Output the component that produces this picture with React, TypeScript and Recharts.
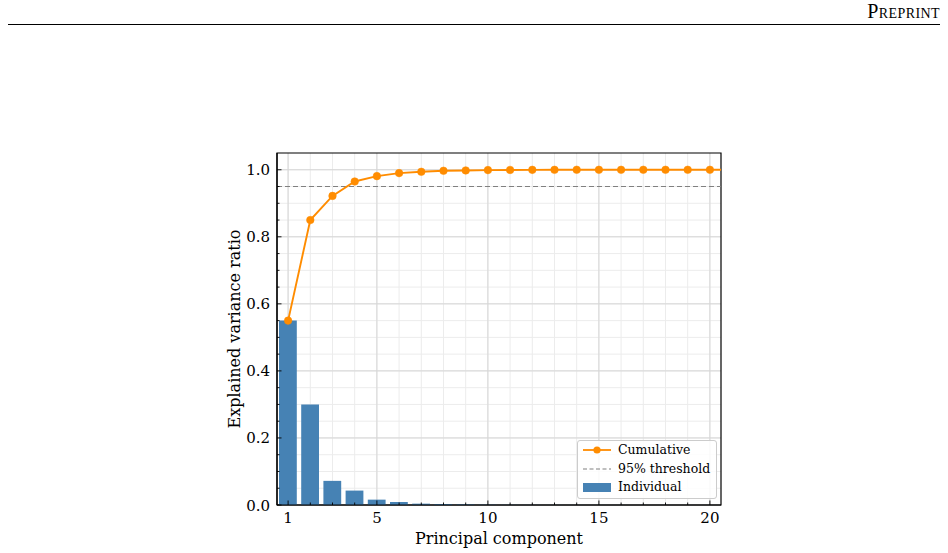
import React from 'react';
import { ComposedChart, Bar, Line, XAxis, YAxis, CartesianGrid, ReferenceLine, ReferenceArea } from 'recharts';

const components = [1, 2, 3, 4, 5, 6, 7, 8, 9, 10, 11, 12, 13, 14, 15, 16, 17, 18, 19, 20, 21];
const individual = [0.55, 0.3, 0.072, 0.043, 0.016, 0.009, 0.004, 0.003, 0.002, 0.001, 0.0006, 0.0004, 0.0003, 0.0002, 0.0002, 0.0001, 0.0001, 0.0001, 0.0001, 0.0001, 0.0001];
const cumulative = [0.55, 0.85, 0.922, 0.965, 0.981, 0.99, 0.994, 0.997, 0.998, 0.999, 0.9995, 0.9998, 0.9999, 1.0, 1.0, 1.0, 1.0, 1.0, 1.0, 1.0, 1.0];

const xTicks = [1, 2, 3, 4, 5, 6, 7, 8, 9, 10, 11, 12, 13, 14, 15, 16, 17, 18, 19, 20];
const xMajor = [1, 5, 10, 15, 20];
const yTicks = [0, 0.05, 0.1, 0.15, 0.2, 0.25, 0.3, 0.35, 0.4, 0.45, 0.5, 0.55, 0.6, 0.65, 0.7, 0.75, 0.8, 0.85, 0.9, 0.95, 1.0];
const yMajor = [0, 0.2, 0.4, 0.6, 0.8, 1.0];
const threshold = 0.95;

const data = components.map((c, i) => ({ pc: c, individual: individual[i], cumulative: cumulative[i] }));

const SERIF = '"DejaVu Serif", serif';
const ORANGE = '#ff8c00';
const BLUE = '#4682b4';

const isMajorY = (v: number) => yMajor.some((m) => Math.abs(m - v) < 1e-6);

const XTick = (props: any) => {
    const { x, y, payload } = props;
    const major = xMajor.includes(payload.value);
    return (
        <g>
            <line x1={x} x2={x} y1={y} y2={y - (major ? 4.5 : 2.5)} stroke="#000" strokeWidth={0.9} />
            {major && (
                <text x={x} y={y + 18} textAnchor="middle" fontFamily={SERIF} fontSize={15} fill="#000">
                    {payload.value}
                </text>
            )}
        </g>
    );
};

const YTick = (props: any) => {
    const { x, y, payload } = props;
    const major = isMajorY(payload.value);
    return (
        <g>
            <line x1={x} x2={x + (major ? 4.5 : 2.5)} y1={y} y2={y} stroke="#000" strokeWidth={0.9} />
            {major && (
                <text x={x - 7} y={y + 5.5} textAnchor="end" fontFamily={SERIF} fontSize={15} fill="#000">
                    {payload.value.toFixed(1)}
                </text>
            )}
        </g>
    );
};

function LegendBox() {
    const row: React.CSSProperties = { display: 'flex', alignItems: 'center', height: 18.5 };
    const label: React.CSSProperties = { marginLeft: 7, fontFamily: SERIF, fontSize: 12.5, color: '#000', lineHeight: '14px' };
    return (
        <div
            style={{
                position: 'absolute',
                left: 577,
                top: 440,
                width: 140,
                height: 59,
                boxSizing: 'border-box',
                border: '1px solid #cccccc',
                borderRadius: 3,
                background: 'rgba(255,255,255,0.85)',
                padding: '0px 0 0 5px',
            }}
        >
            <div style={row}>
                <svg width={28} height={10}>
                    <line x1={0} x2={28} y1={5} y2={5} stroke={ORANGE} strokeWidth={1.8} />
                    <circle cx={14} cy={5} r={3.6} fill={ORANGE} />
                </svg>
                <span style={label}>Cumulative</span>
            </div>
            <div style={row}>
                <svg width={28} height={10}>
                    <line x1={0} x2={28} y1={5} y2={5} stroke="#808080" strokeWidth={1.2} strokeDasharray="4 2.5" />
                </svg>
                <span style={label}>95% threshold</span>
            </div>
            <div style={row}>
                <svg width={28} height={10}>
                    <rect x={0} y={1} width={28} height={9} fill={BLUE} />
                </svg>
                <span style={label}>Individual</span>
            </div>
        </div>
    );
}

export default function App() {
    return (
        <div style={{ position: 'absolute', left: 0, top: 0, width: 948, height: 553, background: '#fff' }}>
            <div
                style={{
                    position: 'absolute',
                    right: 8,
                    top: 0,
                    lineHeight: '23px',
                    fontFamily: '"Liberation Serif", serif',
                    fontVariant: 'small-caps',
                    fontSize: 20,
                    letterSpacing: 0.4,
                    color: '#000',
                }}
            >
                Preprint
            </div>
            <div style={{ position: 'absolute', left: 8, right: 8, top: 24, height: 1, background: '#000' }} />

            <ComposedChart
                width={948}
                height={553}
                data={data}
                margin={{ top: 153, right: 227, bottom: 0, left: 217 }}
            >
                <CartesianGrid
                    stroke="#ececec"
                    strokeWidth={1}
                    verticalValues={xTicks}
                    horizontalValues={yTicks}
                />
                <CartesianGrid
                    stroke="#d6d6d6"
                    strokeWidth={1}
                    verticalValues={xMajor}
                    horizontalValues={yMajor}
                />
                <XAxis
                    dataKey="pc"
                    type="number"
                    domain={[0.5, 20.5]}
                    allowDataOverflow
                    ticks={xTicks}
                    interval={0}
                    height={48}
                    tickLine={false}
                    tickSize={0}
                    tickMargin={0}
                    tick={<XTick />}
                    axisLine={{ stroke: '#000', strokeWidth: 1.2 }}
                    label={{
                        value: 'Principal component',
                        position: 'insideBottom',
                        offset: 9,
                        style: { fontFamily: SERIF, fontSize: 16, fill: '#000' },
                    }}
                />
                <YAxis
                    type="number"
                    domain={[0, 1.05]}
                    allowDataOverflow
                    ticks={yTicks}
                    interval={0}
                    width={60}
                    tickLine={false}
                    tickSize={0}
                    tickMargin={0}
                    tick={<YTick />}
                    axisLine={{ stroke: '#000', strokeWidth: 1.2 }}
                    label={{
                        value: 'Explained variance ratio',
                        angle: -90,
                        position: 'insideLeft',
                        offset: 17,
                        style: { fontFamily: SERIF, fontSize: 16, fill: '#000', textAnchor: 'middle' },
                    }}
                />
                <Bar dataKey="individual" fill={BLUE} barSize={17.8} isAnimationActive={false} />
                <ReferenceLine y={threshold} stroke="#808080" strokeWidth={1.2} strokeDasharray="5 3" />
                <Line
                    dataKey="cumulative"
                    stroke={ORANGE}
                    strokeWidth={1.9}
                    dot={{ r: 3.8, fill: ORANGE, stroke: ORANGE, strokeWidth: 0.5 }}
                    activeDot={false}
                    isAnimationActive={false}
                />
                <ReferenceArea
                    x1={0.5}
                    x2={20.5}
                    y1={0}
                    y2={1.05}
                    fill="none"
                    fillOpacity={0}
                    stroke="#000"
                    strokeWidth={1.2}
                    ifOverflow="visible"
                />
            </ComposedChart>
            <LegendBox />
        </div>
    );
}
